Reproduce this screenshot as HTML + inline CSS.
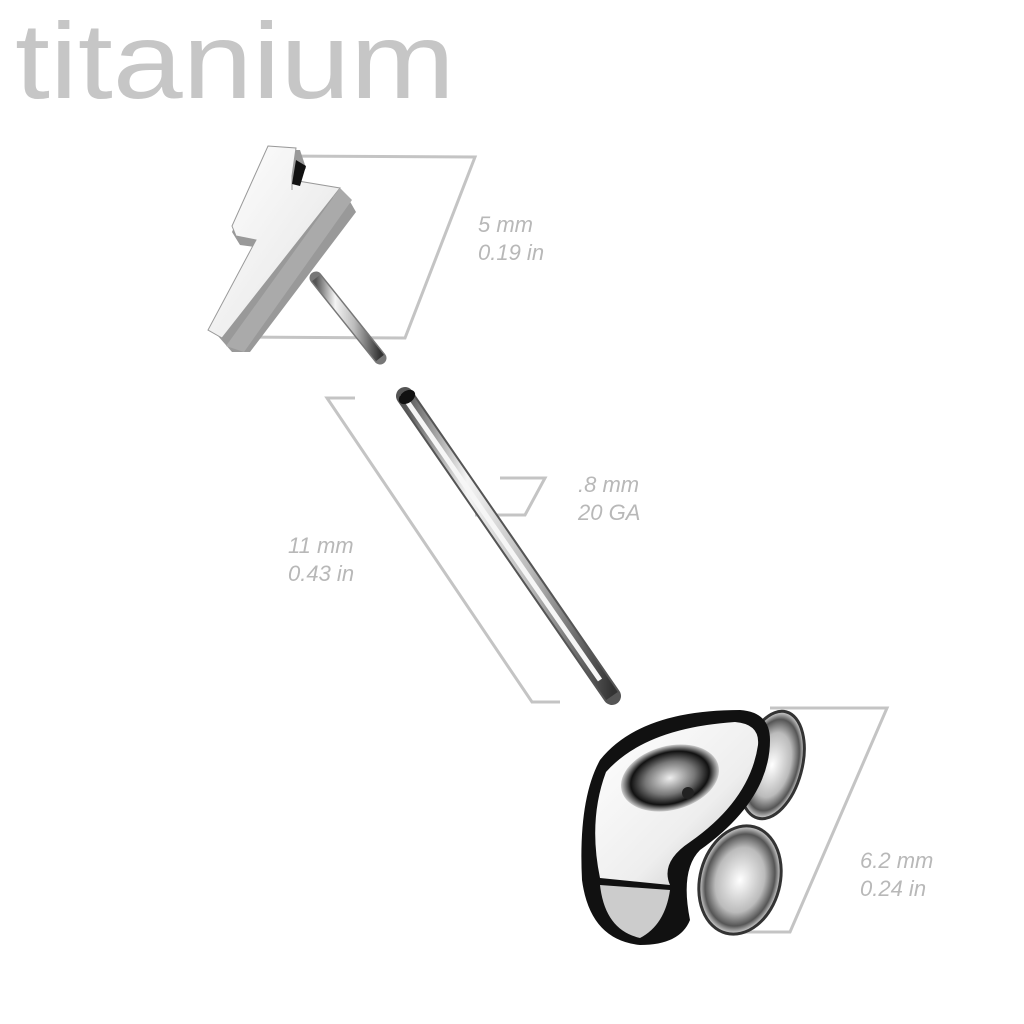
<!DOCTYPE html>
<html><head><style>
html,body{margin:0;padding:0;background:#fff;width:1024px;height:1024px;overflow:hidden}
svg{display:block}
.l{font-family:"Liberation Sans",sans-serif;font-style:italic;font-size:22px;fill:#b8b8b8}
</style></head><body>
<svg width="1024" height="1024" viewBox="0 0 1024 1024">
<defs>
<linearGradient id="pg" x1="0" y1="0" x2="1" y2="0">
<stop offset="0" stop-color="#555"/><stop offset=".3" stop-color="#f4f4f4"/><stop offset=".6" stop-color="#bbb"/><stop offset="1" stop-color="#333"/>
</linearGradient>
<linearGradient id="bg" x1="0" y1="0" x2="1" y2="1">
<stop offset="0" stop-color="#fff"/><stop offset=".6" stop-color="#eee"/><stop offset="1" stop-color="#bbb"/>
</linearGradient>
<radialGradient id="cup" cx=".5" cy=".5" r=".5">
<stop offset="0" stop-color="#eee"/><stop offset=".5" stop-color="#777"/><stop offset=".8" stop-color="#111"/><stop offset="1" stop-color="#ccc"/>
</radialGradient>
<radialGradient id="clu" cx=".5" cy=".5" r=".5">
<stop offset="0" stop-color="#fff"/><stop offset=".6" stop-color="#bbb"/><stop offset=".85" stop-color="#555"/><stop offset="1" stop-color="#ddd"/>
</radialGradient>
</defs>
<text x="15" y="98" font-family="Liberation Sans,sans-serif" font-size="108" fill="#c6c6c6" textLength="440" lengthAdjust="spacingAndGlyphs">titanium</text>
<g fill="none" stroke="#c4c4c4" stroke-width="3">
<polyline points="272,156 475,157 405,338 230,337"/>
<polyline points="355,398 327,398 532,702 560,702"/>
<polyline points="500,478 545,478 525,515 475,515"/>
<polyline points="770,708 887,708 790,932 740,932"/>
</g>
<text class="l" x="478" y="232">5 mm</text><text class="l" x="478" y="260">0.19 in</text>
<text class="l" x="578" y="492">.8 mm</text><text class="l" x="578" y="520">20 GA</text>
<text class="l" x="288" y="553">11 mm</text><text class="l" x="288" y="581">0.43 in</text>
<text class="l" x="860" y="868">6.2 mm</text><text class="l" x="860" y="896">0.24 in</text>
<!-- stud pin -->
<line x1="316" y1="278" x2="380" y2="358" stroke="#777" stroke-width="13" stroke-linecap="round"/>
<line x1="316" y1="278" x2="380" y2="358" stroke="url(#pg)" stroke-width="10"/>
<!-- bolt -->
<polygon points="268,150 300,150 306,168 296,182 292,196 348,198 356,212 250,352 232,352 218,336 232,316 262,248 240,245 232,232" fill="#999"/>
<polygon points="268,146 296,148 292,176 292,190 292,180 340,188 222,338 208,330 256,240 236,236 232,226" fill="url(#bg)" stroke="#999" stroke-width="1"/>
<polygon points="340,188 352,200 244,352 226,346" fill="#aaa"/>
<polygon points="296,160 306,166 300,186 292,184" fill="#111"/>
<!-- post -->
<line x1="405" y1="396" x2="612" y2="696" stroke="#555" stroke-width="18" stroke-linecap="round"/>
<line x1="405" y1="396" x2="612" y2="696" stroke="url(#pg)" stroke-width="14"/>
<line x1="402" y1="394" x2="600" y2="680" stroke="#f6f6f6" stroke-width="5"/>
<ellipse cx="407" cy="397" rx="9" ry="6" transform="rotate(-35 407 397)" fill="#111"/>
<!-- back -->
<ellipse cx="772" cy="765" rx="30" ry="55" transform="rotate(15 772 765)" fill="url(#clu)" stroke="#333" stroke-width="3"/>
<ellipse cx="740" cy="880" rx="40" ry="55" transform="rotate(15 740 880)" fill="url(#clu)" stroke="#333" stroke-width="3"/>
<path d="M600,760 Q640,710 740,710 Q770,712 770,740 Q770,800 700,850 Q680,870 690,920 Q680,945 640,945 Q590,940 582,880 Q578,800 600,760Z" fill="#111"/>
<path d="M606,772 Q645,728 735,722 Q760,724 758,745 Q750,800 690,842 Q660,862 670,885 L600,878 Q588,820 606,772Z" fill="url(#bg)"/>
<ellipse cx="670" cy="778" rx="50" ry="32" transform="rotate(-15 670 778)" fill="url(#cup)"/>
<circle cx="688" cy="793" r="6" fill="#222"/>
<path d="M600,885 L670,890 Q665,925 640,938 Q605,930 600,885Z" fill="#ccc"/>
</svg>
</body></html>
